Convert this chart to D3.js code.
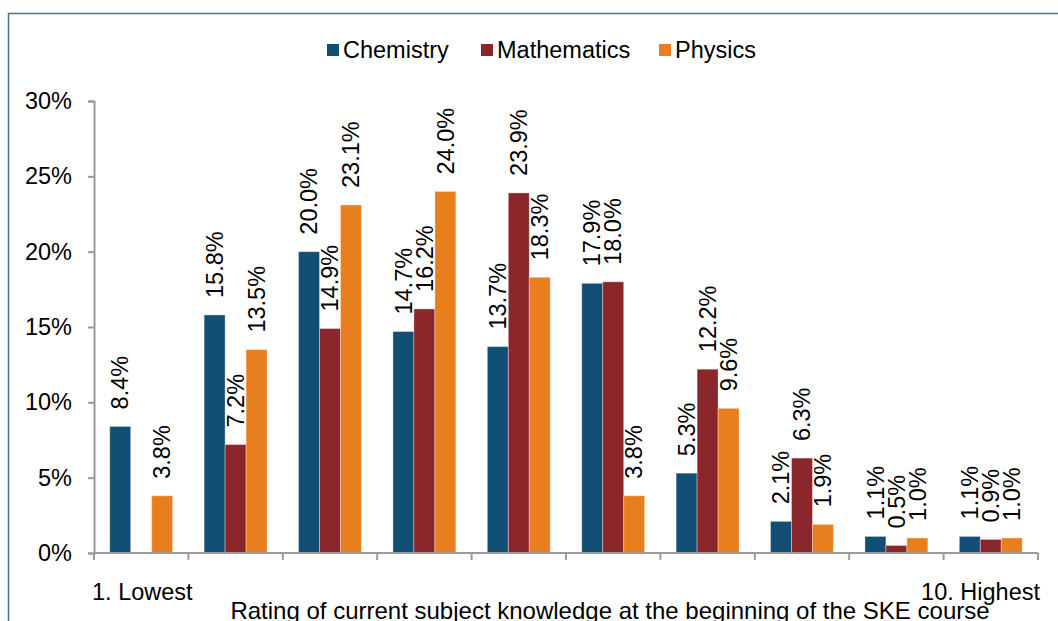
<!DOCTYPE html>
<html>
  <head>
    <title>SKE subject knowledge rating</title>
    <script src="https://d3js.org/d3.v7.min.js"></script>
    <style>
      body { margin: 0; background: #fff; }
      text { font-family: "Liberation Sans", Arial, sans-serif; fill: #000; }
    </style>
  </head>
  <body>
    <svg id="chart" width="1058" height="621"></svg>
    <script>
      var categories = ["1", "2", "3", "4", "5", "6", "7", "8", "9", "10"];
      var tickLabels = ["1. Lowest", "", "", "", "", "", "", "", "", "10. Highest"];
      var seriesNames = ["Chemistry", "Mathematics", "Physics"];
      var chemistry = [8.4, 15.8, 20.0, 14.7, 13.7, 17.9, 5.3, 2.1, 1.1, 1.1];
      var mathematics = [null, 7.2, 14.9, 16.2, 23.9, 18.0, 12.2, 6.3, 0.5, 0.9];
      var physics = [3.8, 13.5, 23.1, 24.0, 18.3, 3.8, 9.6, 1.9, 1.0, 1.0];
      var yTicks = [0, 5, 10, 15, 20, 25, 30];
      var xTitle = "Rating of current subject knowledge at the beginning of the SKE course";

      var colors = ["#124f75", "#8b262b", "#e87e1e"];
      var seriesValues = [chemistry, mathematics, physics];
      var fontSize = "23.5px";

      var svg = d3.select("#chart");

      // outer frame (extends past the visible area)
      svg.append("rect")
        .attr("x", 8.5).attr("y", 13.5)
        .attr("width", 1100).attr("height", 700)
        .attr("fill", "none")
        .attr("stroke", "#3f7599")
        .attr("stroke-width", 1.5);

      var plotLeft = 94, plotRight = 1038, plotTop = 101, plotBottom = 553;

      var x = d3.scaleBand().domain(categories).range([plotLeft, plotRight]);
      var xInner = d3.scaleBand().domain(seriesNames)
        .range([0, x.bandwidth()]).paddingOuter(0.75).paddingInner(0);
      var y = d3.scaleLinear().domain([0, 30]).range([plotBottom, plotTop]);

      // y axis
      var yAxis = svg.append("g")
        .attr("transform", "translate(" + plotLeft + ",0)")
        .call(d3.axisLeft(y).tickValues(yTicks).tickSize(6).tickPadding(16)
          .tickFormat(d => d + "%"));
      yAxis.selectAll("path, line").attr("stroke", "#9a9a9a").attr("stroke-width", 2);
      yAxis.selectAll("text").style("font-size", fontSize).attr("font-family", null);

      // bars
      var data = [];
      categories.forEach((c, i) => {
        seriesNames.forEach((s, j) => {
          var v = seriesValues[j][i];
          if (v != null) data.push({ cat: c, series: s, idx: j, value: v });
        });
      });

      var bars = svg.append("g");
      bars.selectAll("rect")
        .data(data)
        .enter()
        .append("rect")
        .attr("x", d => x(d.cat) + xInner(d.series))
        .attr("y", d => y(d.value))
        .attr("width", xInner.bandwidth())
        .attr("height", d => y(0) - y(d.value))
        .attr("fill", d => colors[d.idx])
        .attr("stroke", "#ffffff")
        .attr("stroke-opacity", 0.35)
        .attr("stroke-width", 1);

      // value labels
      bars.selectAll("text")
        .data(data)
        .enter()
        .append("text")
        .attr("transform", d => {
          var cx = x(d.cat) + xInner(d.series) + xInner.bandwidth() / 2;
          return "translate(" + cx + "," + (y(d.value) - 17) + ") rotate(-90)";
        })
        .attr("dy", "0.35em")
        .style("font-size", fontSize)
        .text(d => d.value.toFixed(1) + "%");

      // x axis
      var xAxis = svg.append("g")
        .attr("transform", "translate(0," + plotBottom + ")");
      xAxis.append("line")
        .attr("x1", plotLeft).attr("x2", plotRight)
        .attr("stroke", "#9a9a9a").attr("stroke-width", 2);
      var bounds = categories.map(c => x(c)).concat([plotRight]);
      xAxis.selectAll("line.tick")
        .data(bounds)
        .enter()
        .append("line")
        .attr("class", "tick")
        .attr("x1", d => d).attr("x2", d => d)
        .attr("y1", 0).attr("y2", 7)
        .attr("stroke", "#9a9a9a").attr("stroke-width", 2);

      xAxis.selectAll("text.cat")
        .data(tickLabels.map((t, i) => ({ t: t, i: i })).filter(d => d.t))
        .enter()
        .append("text")
        .attr("class", "cat")
        .attr("x", d => d.i === 0 ? x(categories[d.i]) - 2 : x(categories[d.i]) + x.bandwidth() + 2)
        .attr("y", 47)
        .attr("text-anchor", d => d.i === 0 ? "start" : "end")
        .style("font-size", fontSize)
        .text(d => d.t);

      svg.append("text")
        .attr("x", 610)
        .attr("y", 619)
        .attr("text-anchor", "middle")
        .style("font-size", "24px")
        .text(xTitle);

      // legend
      var legendX = [327, 481, 659];
      var legend = svg.append("g").selectAll("g")
        .data(seriesNames)
        .enter()
        .append("g")
        .attr("transform", (d, i) => "translate(" + legendX[i] + ",44)");
      legend.append("rect")
        .attr("width", 12).attr("height", 12)
        .attr("fill", (d, i) => colors[i]);
      legend.append("text")
        .attr("x", 16).attr("y", 14)
        .style("font-size", fontSize)
        .text(d => d);
    </script>
  </body>
</html>
